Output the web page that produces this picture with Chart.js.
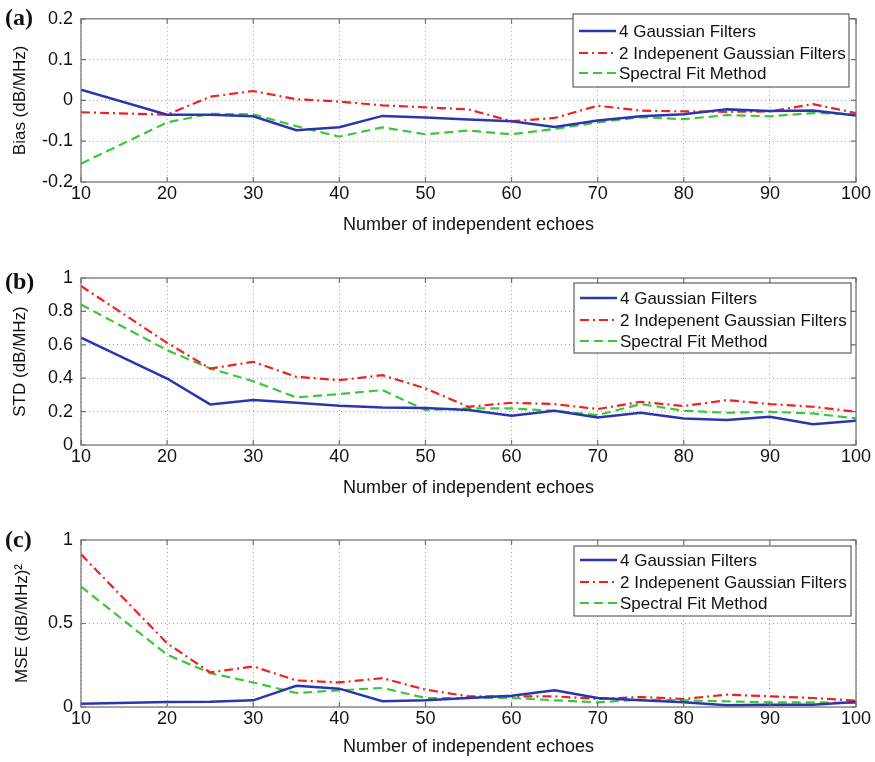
<!DOCTYPE html>
<html>
<head>
<meta charset="utf-8">
<script src="https://cdn.jsdelivr.net/npm/chart.js@4"></script>
<style>
  html, body { margin: 0; padding: 0; background: #fff; width: 875px; height: 762px; overflow: hidden; }
  .wrap { position: absolute; left: 0; width: 875px; }
</style>
</head>
<body>
<div class="wrap" style="top:0px;height:250px"><canvas id="ca"></canvas></div>
<div class="wrap" style="top:250px;height:260px"><canvas id="cb"></canvas></div>
<div class="wrap" style="top:510px;height:252px"><canvas id="cc"></canvas></div>
<script>
// ---------- DATA ----------
const echoes = [10, 20, 25, 30, 35, 40, 45, 50, 55, 60, 65, 70, 75, 80, 85, 90, 95, 100];
const seriesNames = ['4 Gaussian Filters', '2 Indepenent Gaussian Filters', 'Spectral Fit Method'];
const xTicks = [10, 20, 30, 40, 50, 60, 70, 80, 90, 100];

// (a) Bias
const biasGauss4 = [0.026, -0.035, -0.035, -0.039, -0.073, -0.066, -0.038, -0.042, -0.047, -0.051, -0.065, -0.049, -0.039, -0.034, -0.022, -0.026, -0.025, -0.037];
const biasGauss2 = [-0.029, -0.035, 0.009, 0.023, 0.003, -0.003, -0.012, -0.017, -0.022, -0.051, -0.043, -0.013, -0.025, -0.027, -0.028, -0.027, -0.009, -0.031];
const biasSpectral = [-0.155, -0.054, -0.033, -0.034, -0.063, -0.089, -0.066, -0.083, -0.074, -0.083, -0.070, -0.054, -0.041, -0.046, -0.036, -0.039, -0.031, -0.034];
const biasTicks = [-0.2, -0.1, 0, 0.1, 0.2];

// (b) STD
const stdGauss4 = [0.643, 0.398, 0.243, 0.269, 0.253, 0.235, 0.225, 0.221, 0.209, 0.175, 0.205, 0.165, 0.193, 0.159, 0.149, 0.169, 0.125, 0.145];
const stdGauss2 = [0.952, 0.612, 0.458, 0.498, 0.408, 0.388, 0.418, 0.339, 0.229, 0.253, 0.245, 0.215, 0.259, 0.233, 0.269, 0.245, 0.229, 0.199];
const stdSpectral = [0.841, 0.568, 0.458, 0.382, 0.285, 0.305, 0.329, 0.209, 0.219, 0.219, 0.205, 0.179, 0.245, 0.205, 0.193, 0.199, 0.189, 0.159];
const stdTicks = [0, 0.2, 0.4, 0.6, 0.8, 1];

// (c) MSE
const mseGauss4 = [0.020, 0.030, 0.032, 0.040, 0.127, 0.110, 0.034, 0.040, 0.054, 0.068, 0.100, 0.054, 0.040, 0.028, 0.010, 0.014, 0.014, 0.030];
const mseGauss2 = [0.914, 0.382, 0.207, 0.243, 0.159, 0.147, 0.173, 0.104, 0.064, 0.064, 0.064, 0.048, 0.060, 0.048, 0.074, 0.064, 0.054, 0.038];
const mseSpectral = [0.721, 0.313, 0.203, 0.147, 0.084, 0.100, 0.114, 0.054, 0.054, 0.054, 0.040, 0.028, 0.044, 0.040, 0.034, 0.028, 0.028, 0.024];
const mseTicks = [0, 0.5, 1];

// ---------- STYLE ----------
const FONT = 'Liberation Sans, Arial, sans-serif';
const styles = [
  { color: '#2a36b0', width: 2.5, dash: [] },
  { color: '#f02020', width: 2.2, dash: [9, 4, 2, 4] },
  { color: '#3ec63a', width: 2.2, dash: [9, 5] }
];

function pts(vals) { return echoes.map((x, i) => ({ x: x, y: vals[i] })); }
function fmt(v) { return String(+Number(v).toFixed(3)); }

// Box + inward ticks + legend + panel label
const matlabPlugin = {
  id: 'matlab',
  afterDatasetsDraw(chart, args, opts) {
    const { ctx, chartArea: a } = chart;
    const xs = chart.scales.x, ys = chart.scales.y;
    ctx.save();
    ctx.strokeStyle = '#707070';
    ctx.lineWidth = 1.2;
    ctx.setLineDash([]);
    ctx.strokeRect(a.left, a.top, a.right - a.left, a.bottom - a.top);
    const tl = 5;
    ctx.beginPath();
    xs.ticks.forEach(t => {
      const px = xs.getPixelForValue(t.value);
      ctx.moveTo(px, a.bottom); ctx.lineTo(px, a.bottom - tl);
      ctx.moveTo(px, a.top); ctx.lineTo(px, a.top + tl);
    });
    ys.ticks.forEach(t => {
      const py = ys.getPixelForValue(t.value);
      ctx.moveTo(a.left, py); ctx.lineTo(a.left + tl, py);
      ctx.moveTo(a.right, py); ctx.lineTo(a.right - tl, py);
    });
    ctx.stroke();

    // legend
    const L = opts.legend;
    ctx.fillStyle = '#fff';
    ctx.fillRect(L.x, L.y, L.w, L.h);
    ctx.strokeStyle = '#404040';
    ctx.lineWidth = 1;
    ctx.strokeRect(L.x, L.y, L.w, L.h);
    ctx.font = '17px ' + FONT;
    ctx.textBaseline = 'middle';
    ctx.textAlign = 'left';
    chart.data.datasets.forEach((ds, i) => {
      const cy = L.y + L.rows[i];
      ctx.strokeStyle = ds.borderColor;
      ctx.lineWidth = ds.borderWidth;
      ctx.setLineDash(ds.borderDash || []);
      ctx.beginPath();
      ctx.moveTo(L.x + 6, cy); ctx.lineTo(L.x + 43, cy);
      ctx.stroke();
      ctx.setLineDash([]);
      ctx.fillStyle = '#111';
      ctx.fillText(ds.label, L.x + 46, cy + 1);
    });

    // panel label
    ctx.font = 'bold 24px Liberation Serif, DejaVu Serif, serif';
    ctx.fillStyle = '#111';
    ctx.textBaseline = 'alphabetic';
    ctx.fillText(opts.panel.text, opts.panel.x, opts.panel.y);
    ctx.restore();
  }
};

function makeChart(id, vals, ticks, ymin, ymax, yTitle, pad, axisH, legend, panel, yTitlePad) {
  const datasets = vals.map((v, i) => ({
    label: seriesNames[i],
    data: pts(v),
    borderColor: styles[i].color,
    borderWidth: styles[i].width,
    borderDash: styles[i].dash,
    pointRadius: 0,
    tension: 0,
    fill: false
  }));
  return new Chart(document.getElementById(id), {
    type: 'line',
    data: { datasets: datasets },
    options: {
      responsive: true,
      maintainAspectRatio: false,
      animation: false,
      events: [],
      layout: { padding: pad },
      plugins: {
        legend: { display: false },
        tooltip: { enabled: false },
        matlab: { legend: legend, panel: panel }
      },
      scales: {
        x: {
          type: 'linear',
          min: 10, max: 100,
          afterBuildTicks: s => { s.ticks = xTicks.map(v => ({ value: v })); },
          afterFit: s => { s.height = axisH; },
          ticks: { color: '#111', font: { family: FONT, size: 18 }, padding: 1, maxRotation: 0, callback: fmt },
          grid: { color: '#a8a8a8', drawTicks: false },
          border: { display: false, dash: [1, 3] },
          title: { display: true, text: 'Number of independent echoes', color: '#111', font: { family: FONT, size: 18 }, padding: { top: 4, bottom: 4 } }
        },
        y: {
          type: 'linear',
          min: ymin, max: ymax,
          afterBuildTicks: s => { s.ticks = ticks.map(v => ({ value: v })); },
          afterFit: s => { s.width = 81; },
          ticks: { color: '#111', font: { family: FONT, size: 18 }, padding: 8, callback: fmt },
          grid: { color: '#a8a8a8', drawTicks: false },
          border: { display: false, dash: [1, 3] },
          title: { display: true, text: yTitle, color: '#111', font: { family: FONT, size: 17 }, padding: { top: yTitlePad, bottom: 0 } }
        }
      }
    }
  });
}

Chart.register(matlabPlugin);
Chart.defaults.font.family = FONT;
Chart.defaults.scale.grid.borderDash = [1, 3];

makeChart('ca', [biasGauss4, biasGauss2, biasSpectral], biasTicks, -0.2, 0.2, 'Bias (dB/MHz)',
  { left: 0, right: 19, top: 14, bottom: 10 }, 58,
  { x: 573, y: 14, w: 276, h: 73, rows: [17, 39, 59] },
  { text: '(a)', x: 5, y: 25 }, 10);

makeChart('cb', [stdGauss4, stdGauss2, stdSpectral], stdTicks, 0, 1, 'STD (dB/MHz)',
  { left: 0, right: 19, top: 28, bottom: 7 }, 58,
  { x: 574, y: 33, w: 277, h: 70, rows: [15, 37, 58] },
  { text: '(b)', x: 5, y: 39 }, 10);

makeChart('cc', [mseGauss4, mseGauss2, mseSpectral], mseTicks, 0, 1, 'MSE (dB/MHz)\u00B2',
  { left: 0, right: 19, top: 30, bottom: 0 }, 55,
  { x: 574, y: 36, w: 277, h: 70, rows: [14, 36, 57] },
  { text: '(c)', x: 5, y: 37 }, 12);
</script>
</body>
</html>
